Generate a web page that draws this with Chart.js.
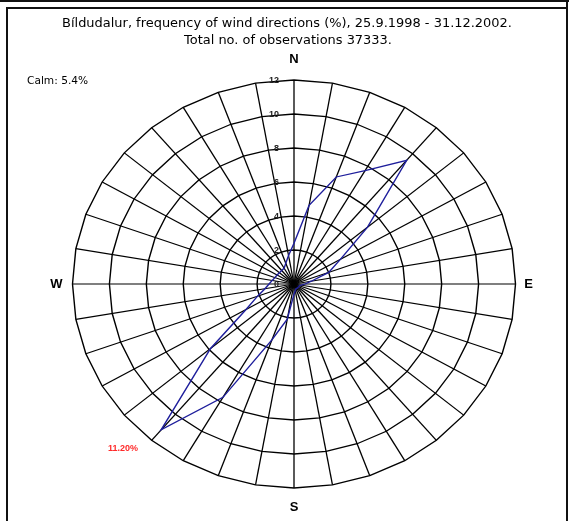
<!DOCTYPE html>
<html><head><meta charset="utf-8">
<script src="https://cdn.jsdelivr.net/npm/chart.js@4/dist/chart.umd.min.js"></script>
<style>html,body{margin:0;padding:0;background:#fff;}canvas{display:block;}</style>
</head><body>
<canvas id="c" width="569" height="521"></canvas>
<script>
// ---- data ----
const directions = [0,10,20,30,40,50,60,70,80,90,100,110,120,130,140,150,160,170,
                    180,190,200,210,220,230,240,250,260,270,280,290,300,310,320,330,340,350];
const frequencies = [2.4,4.7,6.7,7.7,9.5,5.2,2.9,2.0,0.95,0.6,0.4,0.3,0.3,0.3,0.3,0.3,0.3,0.4,
                     0.6,2.1,3.5,7.7,11.2,5.9,3.0,2.1,1.6,1.35,1.2,1.1,1.06,1.03,1.04,1.07,1.3,1.7];
const tickValues = [0,2,4,6,8,10,12];
const compass = ['N','E','S','W'];
const titleLines = ['Bíldudalur, frequency of wind directions (%), 25.9.1998 - 31.12.2002.',
                    'Total no. of observations 37333.'];
const calmText = 'Calm: 5.4%';
const maxText = '11.20%';

const SX = 221.5 / 204; // horizontal stretch of the rose

const ellipsePlugin = {
  id: 'ellipse',
  beforeDraw(chart) {
    const r = chart.scales.r, ctx = chart.ctx;
    ctx.save();
    ctx.translate(r.xCenter, r.yCenter);
    ctx.scale(SX, 1);
    ctx.translate(-r.xCenter, -r.yCenter);
  },
  afterDraw(chart) {
    const ctx = chart.ctx, r = chart.scales.r;
    ctx.restore();
    const xc = r.xCenter, yc = r.yCenter;
    const R = r.getDistanceFromCenterForValue(12);
    ctx.save();
    // frame
    ctx.fillStyle = '#111';
    ctx.fillRect(0, 0, 569, 2);
    ctx.fillRect(6, 7, 561, 2);
    ctx.fillRect(6, 7, 2, 514);
    ctx.fillRect(566, 0, 2, 521);
    // title
    ctx.fillStyle = '#000';
    ctx.textAlign = 'center';
    ctx.textBaseline = 'middle';
    ctx.font = '12px "DejaVu Sans"';
    const w = ctx.measureText(titleLines[0]).width;
    const fs = 12 * 450 / w;
    ctx.font = fs.toFixed(2) + 'px "DejaVu Sans"';
    ctx.fillText(titleLines[0], 287, 24);
    ctx.fillText(titleLines[1], 288, 41);
    // calm
    ctx.textAlign = 'left';
    ctx.font = (fs * 0.82).toFixed(2) + 'px "DejaVu Sans"';
    ctx.fillText(calmText, 27, 81);
    // compass
    ctx.font = 'bold 13px "Liberation Sans"';
    ctx.textAlign = 'center';
    ctx.fillText(compass[0], xc, yc - R - 21);
    ctx.fillText(compass[2], xc, yc + R + 19);
    ctx.fillText(compass[1], xc + R * SX + 13, yc);
    ctx.fillText(compass[3], xc - R * SX - 16, yc);
    // ticks
    ctx.font = 'bold 9px "Liberation Sans"';
    ctx.textAlign = 'right';
    ctx.fillStyle = '#222';
    tickValues.forEach(v => {
      ctx.fillText(String(v), xc - 15, yc - r.getDistanceFromCenterForValue(v) + 1);
    });
    // max label
    ctx.fillStyle = '#ff2a2a';
    ctx.textAlign = 'left';
    ctx.font = 'bold 9px "Liberation Sans"';
    ctx.fillText(maxText, 108, 449);
    ctx.restore();
  }
};

new Chart(document.getElementById('c'), {
  type: 'radar',
  data: {
    labels: directions.map(String),
    datasets: [{
      data: frequencies,
      borderColor: '#1e1e9c',
      borderWidth: 1.3,
      backgroundColor: 'rgba(0,0,0,0)',
      fill: false,
      pointRadius: 0,
      tension: 0,
      clip: false
    }]
  },
  options: {
    responsive: false,
    animation: false,
    devicePixelRatio: 1,
    layout: { padding: { left: 90, right: 71, top: 80, bottom: 33 } },
    plugins: { legend: { display: false }, title: { display: false }, tooltip: { enabled: false } },
    scales: {
      r: {
        min: 0, max: 12,
        ticks: { stepSize: 2, display: false },
        grid: { circular: false, color: '#000', lineWidth: 1.3 },
        angleLines: { display: true, color: '#000', lineWidth: 1.2 },
        pointLabels: { display: false }
      }
    }
  },
  plugins: [ellipsePlugin]
});
</script>
</body></html>
